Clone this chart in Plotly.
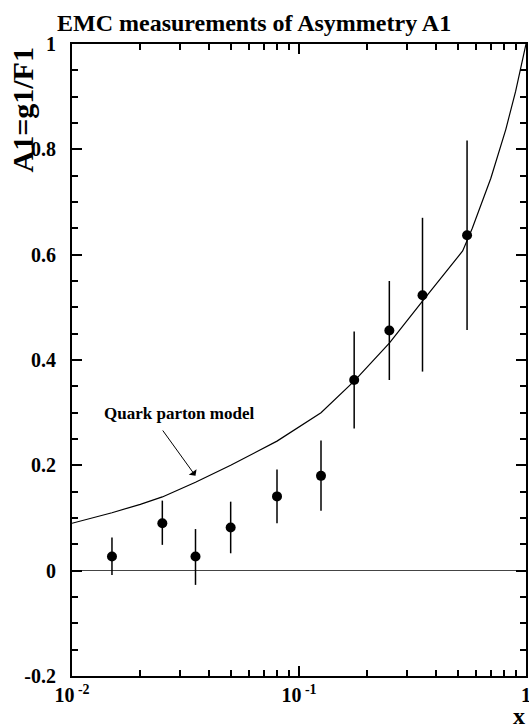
import plotly.graph_objects as go

# Data
x_data = [0.015, 0.025, 0.035, 0.05, 0.08, 0.125, 0.175, 0.25, 0.35, 0.55]
a1_data = [0.027, 0.090, 0.027, 0.082, 0.141, 0.180, 0.362, 0.456, 0.523, 0.637]
err_plus = [0.036, 0.043, 0.052, 0.049, 0.051, 0.067, 0.092, 0.094, 0.147, 0.180]
err_minus = [0.035, 0.041, 0.054, 0.049, 0.051, 0.066, 0.092, 0.094, 0.145, 0.180]

curve_x = [0.01, 0.015, 0.02, 0.025, 0.035, 0.05, 0.08, 0.125, 0.175, 0.25,
           0.35, 0.45, 0.526, 0.58, 0.7, 0.815, 0.9, 1.0]
curve_y = [0.090, 0.110, 0.126, 0.140, 0.168, 0.200, 0.246, 0.300, 0.360, 0.432,
           0.512, 0.570, 0.607, 0.650, 0.745, 0.838, 0.910, 1.0]

x_tickvals = [0.01, 0.1, 1]
x_ticktext = ["<b>10<sup> -2</sup></b>", "<b>10<sup> -1</sup></b>", "<b>1</b>"]
x_minor = [0.02, 0.03, 0.04, 0.05, 0.06, 0.07, 0.08, 0.09,
           0.2, 0.3, 0.4, 0.5, 0.6, 0.7, 0.8, 0.9]
y_tickvals = [-0.2, 0, 0.2, 0.4, 0.6, 0.8, 1]
y_ticktext = ["<b>-0.2</b>  ", "<b>0</b>  ", "<b>0.2</b>  ", "<b>0.4</b>  ",
              "<b>0.6</b>  ", "<b>0.8</b>  ", "<b>1</b>  "]

FONT = "Liberation Serif, Times New Roman, serif"

fig = go.Figure()
fig.add_trace(go.Scatter(
    x=curve_x, y=curve_y, mode="lines",
    line=dict(color="black", width=1.2), showlegend=False, hoverinfo="skip"))
fig.add_trace(go.Scatter(
    x=x_data, y=a1_data, mode="markers",
    marker=dict(color="black", size=10),
    error_y=dict(type="data", array=err_plus, arrayminus=err_minus,
                 color="black", thickness=1.5, width=0),
    showlegend=False))

PT, PB, PL, PR = 44, 676, 72, 526
H = PB - PT

fig.update_layout(
    width=529, height=727,
    margin=dict(l=PL, r=529 - PR, t=PT, b=727 - PB),
    plot_bgcolor="white", paper_bgcolor="white",
    font=dict(family=FONT, color="black", size=20),
    xaxis=dict(
        type="log", range=[-2, 0], automargin=False,
        tickmode="array", tickvals=x_tickvals, ticktext=x_ticktext,
        ticklabeloverflow="allow",
        ticks="inside", ticklen=10, tickwidth=1.5, tickcolor="black",
        minor=dict(tickmode="array", tickvals=x_minor, ticks="inside",
                   ticklen=6, tickwidth=1.5, tickcolor="black", showgrid=False),
        showline=True, linecolor="black", linewidth=2, mirror="ticks",
        showgrid=False, zeroline=False,
        tickfont=dict(family=FONT, size=20, color="black"),
    ),
    yaxis=dict(
        range=[-0.2, 1], automargin=False,
        tickmode="array", tickvals=y_tickvals, ticktext=y_ticktext,
        ticks="inside", ticklen=10, tickwidth=1.5, tickcolor="black",
        minor=dict(dtick=0.05, tick0=0, ticks="inside", ticklen=6,
                   tickwidth=1.5, tickcolor="black", showgrid=False),
        showline=True, linecolor="black", linewidth=2, mirror="ticks",
        showgrid=False,
        zeroline=True, zerolinecolor="#444", zerolinewidth=1,
        tickfont=dict(family=FONT, size=20, color="black"),
    ),
    annotations=[
        dict(text="<b>EMC measurements of Asymmetry A1</b>",
             xref="paper", yref="paper", x=(254 - PL) / (PR - PL), y=1,
             yshift=PT - 23, xanchor="center", yanchor="middle", showarrow=False,
             font=dict(family=FONT, size=24, color="black")),
        dict(text="<b>A1=g1/F1</b>", textangle=-90,
             xref="paper", yref="paper", x=(22 - PL) / (PR - PL),
             y=1 - (46 - PT) / H,
             xanchor="center", yanchor="top", showarrow=False,
             font=dict(family=FONT, size=30, color="black")),
        dict(text="<b>x</b>",
             xref="paper", yref="paper", x=1, xanchor="right", xshift=0,
             y=0, yshift=-(716 - PB), yanchor="middle", showarrow=False,
             borderpad=0,
             font=dict(family=FONT, size=24, color="black")),
        dict(text="<b>Quark parton model</b>",
             xref="x", yref="y", x=-1.53, y=(570 - 413) / 527,
             xanchor="center", yanchor="middle", showarrow=False,
             font=dict(family=FONT, size=17, color="black")),
        dict(text="", xref="x", yref="y", x=-1.456, y=0.180,
             ax=-1.605, ay=0.269, axref="x", ayref="y",
             showarrow=True, arrowhead=1, arrowsize=1.6, arrowwidth=1,
             arrowcolor="black"),
    ],
)

fig.write_html("out.html")
